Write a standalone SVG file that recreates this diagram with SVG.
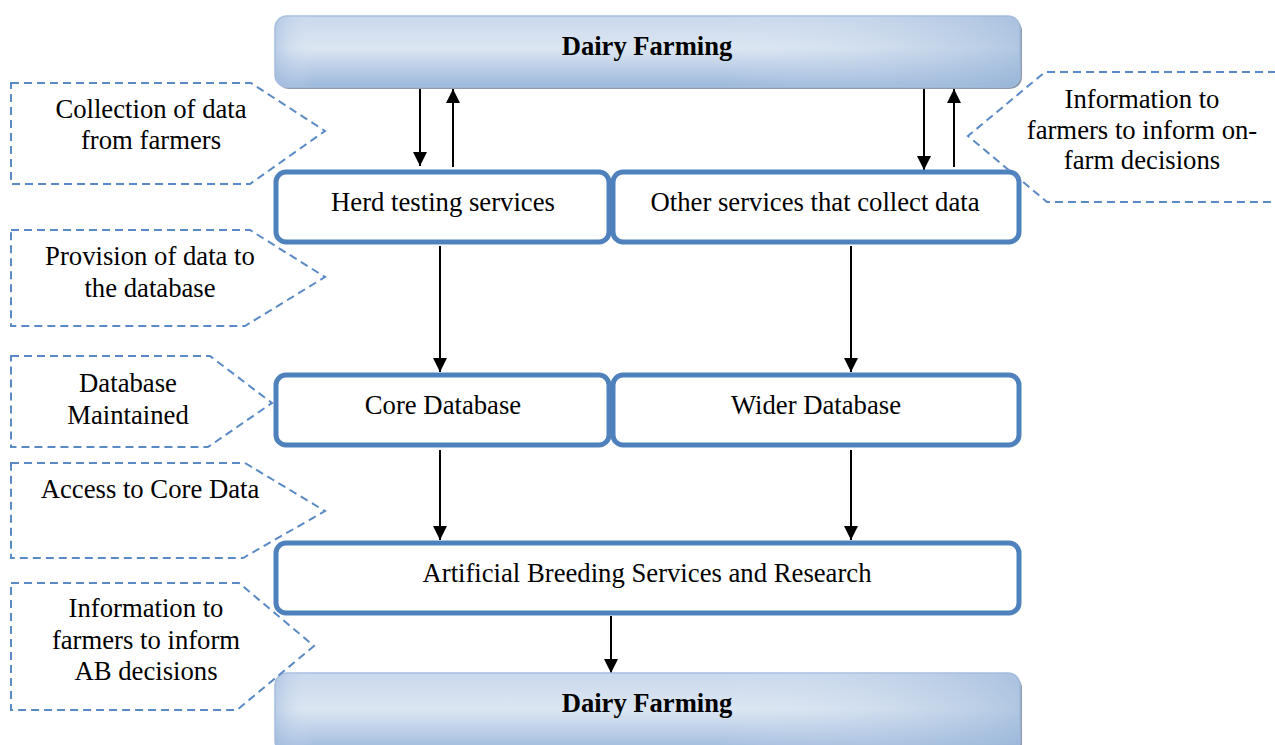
<svg xmlns="http://www.w3.org/2000/svg" width="1275" height="745" viewBox="0 0 1275 745">
<defs>
<style>
.box{fill:#fff;stroke:#4F81BD;stroke-width:5}
.call{fill:none;stroke:#5A8AC6;stroke-width:2;stroke-dasharray:8,5}
.t{font-family:"Liberation Serif","Times New Roman",serif;font-size:26.7px;fill:#000;text-anchor:middle}
.b{font-family:"Liberation Serif","Times New Roman",serif;font-size:26.6px;font-weight:bold;fill:#000;text-anchor:middle}
.c{stroke:#000;stroke-width:2;fill:none}
</style>
<linearGradient id="gv" x1="0" y1="0" x2="0" y2="1">
<stop offset="0" stop-color="#C9D8EC"/>
<stop offset="0.45" stop-color="#DCE6F2"/>
<stop offset="1" stop-color="#9CB8DC"/>
</linearGradient>
<linearGradient id="gd" x1="0" y1="0" x2="1" y2="0">
<stop offset="0" stop-color="#9CB8DC" stop-opacity="0.5"/>
<stop offset="0.05" stop-color="#DCE6F2" stop-opacity="0"/>
<stop offset="0.6" stop-color="#DCE6F2" stop-opacity="0"/>
<stop offset="1" stop-color="#95B3D7" stop-opacity="0.6"/>
</linearGradient>
<marker id="a" viewBox="0 0 12 12" refX="12" refY="6" markerWidth="14" markerHeight="14" markerUnits="userSpaceOnUse" orient="auto">
<path d="M0,0 L12,6 L0,12 z" fill="#000"/>
</marker>
</defs>
<rect width="1275" height="745" fill="#fff"/>

<g id="connectors">
<line class="c" x1="420" y1="88" x2="420" y2="166" marker-end="url(#a)"/>
<line class="c" x1="453" y1="167" x2="453" y2="89" marker-end="url(#a)"/>
<line class="c" x1="924" y1="88" x2="924" y2="170" marker-end="url(#a)"/>
<line class="c" x1="954" y1="167" x2="954" y2="89" marker-end="url(#a)"/>
<line class="c" x1="440" y1="246" x2="440" y2="372" marker-end="url(#a)"/>
<line class="c" x1="851" y1="246" x2="851" y2="372" marker-end="url(#a)"/>
<line class="c" x1="440" y1="450" x2="440" y2="540" marker-end="url(#a)"/>
<line class="c" x1="851" y1="450" x2="851" y2="540" marker-end="url(#a)"/>
<line class="c" x1="611" y1="616" x2="611" y2="673" marker-end="url(#a)"/>
</g>

<g id="dairy-top">
<rect x="277" y="19" width="745" height="70" rx="12" fill="#8E9BAE"/>
<rect x="275" y="16" width="745" height="71" rx="12" fill="url(#gv)" stroke="#A7BFDF" stroke-width="1.5"/>
<rect x="275" y="16" width="745" height="71" rx="12" fill="url(#gd)"/>
<text class="b" x="647" y="55">Dairy Farming</text>
</g>

<g id="herd-testing">
<rect class="box" x="276" y="172" width="333" height="70" rx="10"/>
<text class="t" x="443" y="211">Herd testing services</text>
</g>

<g id="other-services">
<rect class="box" x="613" y="172" width="406" height="70" rx="10"/>
<text class="t" x="815" y="211">Other services that collect data</text>
</g>

<g id="core-db">
<rect class="box" x="276" y="375" width="333" height="70" rx="10"/>
<text class="t" x="443" y="414">Core Database</text>
</g>

<g id="wider-db">
<rect class="box" x="613" y="375" width="406" height="70" rx="10"/>
<text class="t" x="816" y="414">Wider Database</text>
</g>

<g id="ab-services">
<rect class="box" x="276" y="543" width="743" height="70" rx="10"/>
<text class="t" x="647" y="582">Artificial Breeding Services and Research</text>
</g>

<g id="dairy-bottom">
<rect x="277" y="676" width="745" height="80" rx="12" fill="#8E9BAE"/>
<rect x="275" y="673" width="745" height="80" rx="12" fill="url(#gv)" stroke="#A7BFDF" stroke-width="1.5"/>
<rect x="275" y="673" width="745" height="80" rx="12" fill="url(#gd)"/>
<text class="b" x="647" y="712">Dairy Farming</text>
</g>

<g id="callout-collection">
<path class="call" d="M11,83 L251,83 L325,131 L250,184 L11,184 Z"/>
<text class="t" x="151" y="118">Collection of data</text>
<text class="t" x="151" y="149">from farmers</text>
</g>

<g id="callout-provision">
<path class="call" d="M11,230 L250,230 L325,277 L245,326 L11,326 Z"/>
<text class="t" x="150" y="265">Provision of data to</text>
<text class="t" x="150" y="297">the database</text>
</g>

<g id="callout-maintained">
<path class="call" d="M11,356 L210,356 L272,403 L208,447 L11,447 Z"/>
<text class="t" x="128" y="392">Database</text>
<text class="t" x="128" y="424">Maintained</text>
</g>

<g id="callout-access">
<path class="call" d="M11,463 L245,463 L325,511 L243,558 L11,558 Z"/>
<text class="t" x="150" y="498">Access to Core Data</text>
</g>

<g id="callout-ab">
<path class="call" d="M11,583 L239,583 L314,646 L237,710 L11,710 Z"/>
<text class="t" x="146" y="617">Information to</text>
<text class="t" x="146" y="649">farmers to inform</text>
<text class="t" x="146" y="680">AB decisions</text>
</g>

<g id="callout-onfarm">
<path class="call" d="M1276,72 L1045,72 L968,136 L1047,202 L1276,202"/>
<text class="t" x="1142" y="108">Information to</text>
<text class="t" x="1142" y="139">farmers to inform on-</text>
<text class="t" x="1142" y="169">farm decisions</text>
</g>
</svg>
